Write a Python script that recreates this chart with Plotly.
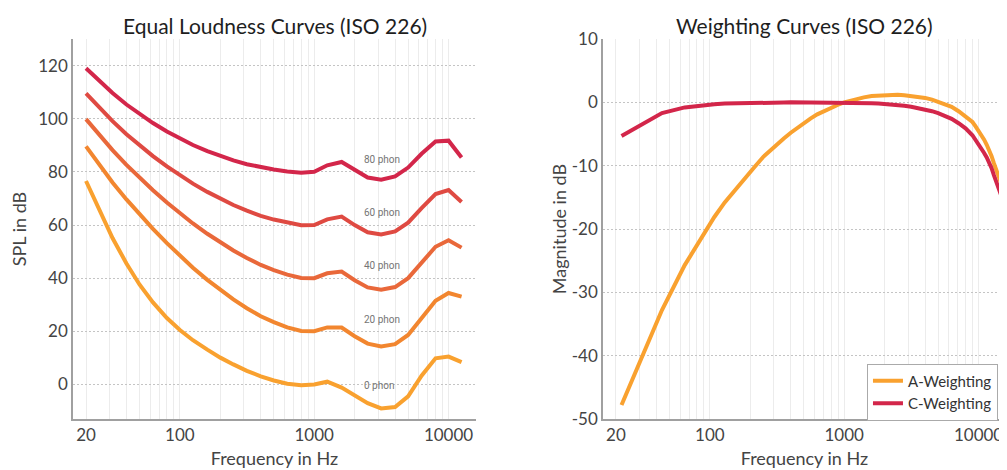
import numpy as np
import plotly.graph_objects as go

# ---------------- data ----------------
freqs = [20, 25, 31.5, 40, 50, 63, 80, 100, 125, 160, 200, 250, 315, 400, 500, 630,
         800, 1000, 1250, 1600, 2000, 2500, 3150, 4000, 5000, 6300, 8000, 10000, 12500]
phon_0 = [76.55, 65.62, 55.12, 45.53, 37.63, 30.87, 25.02, 20.51, 16.64, 13.12, 10.09, 7.54,
          5.12, 3.06, 1.48, 0.30, -0.30, -0.01, 1.04, -1.19, -4.11, -7.05, -9.03, -8.50,
          -4.48, 3.28, 9.83, 10.48, 8.38]
phon_20 = [89.58, 82.65, 75.98, 69.62, 64.02, 58.55, 53.19, 48.38, 43.94, 39.37, 35.51, 31.99,
           28.69, 25.67, 23.43, 21.48, 20.10, 20.01, 21.46, 21.40, 18.15, 15.38, 14.26, 15.14,
           18.64, 25.02, 31.52, 34.43, 33.04]
phon_40 = [99.85, 93.94, 88.17, 82.63, 77.79, 73.08, 68.48, 64.37, 60.59, 56.70, 53.41, 50.40,
           47.58, 44.98, 43.05, 41.34, 40.06, 40.01, 41.82, 42.51, 39.23, 36.51, 35.61, 36.65,
           40.01, 45.83, 51.80, 54.29, 51.49]
phon_60 = [109.51, 104.23, 99.08, 94.18, 89.96, 85.94, 82.05, 78.65, 75.56, 72.47, 69.86, 67.53,
           65.39, 63.45, 62.05, 60.81, 59.89, 60.01, 62.15, 63.19, 59.96, 57.25, 56.42, 57.57,
           60.89, 66.36, 71.66, 73.15, 68.63]
phon_80 = [118.99, 114.23, 109.65, 105.34, 101.72, 98.36, 95.17, 92.48, 90.09, 87.82, 85.92, 84.31,
           82.89, 81.68, 80.86, 80.17, 79.67, 80.01, 82.48, 83.74, 80.59, 77.88, 77.07, 78.31,
           81.62, 86.81, 91.41, 91.74, 85.41]
phon_labels = ["0 phon", "20 phon", "40 phon", "60 phon", "80 phon"]
phon_label_y = [-0.4, 24.6, 44.6, 64.6, 84.7]
phon_label_f = 2280

w_freqs = [22, 44, 65, 86, 108, 129, 151, 172, 194, 215, 250, 280, 315, 355, 400, 450, 500,
           560, 630, 710, 800, 900, 1000, 1120, 1250, 1400, 1600, 1800, 2000, 2250, 2500, 2800,
           3150, 3550, 4000, 4500, 5000, 5600, 6300, 7100, 8000, 9000, 9500, 10000, 10500,
           11000, 11500, 12000, 12500, 13000, 13500, 14000, 14500, 15000, 15500, 16000]
a_weight = [-47.8, -32.8, -25.7, -21.4, -18.1, -15.8, -14.0, -12.6, -11.2, -10.2, -8.6, -7.6,
            -6.6, -5.7, -4.8, -3.95, -3.2, -2.56, -1.9, -1.35, -0.8, -0.38, 0.0, 0.3, 0.6,
            0.78, 1.0, 1.08, 1.15, 1.18, 1.2, 1.12, 1.0, 0.87, 0.7, 0.42, 0.1, -0.3, -0.7,
            -1.4, -2.2, -3.1, -3.8, -4.5, -5.2, -5.9, -6.7, -7.5, -8.5, -9.6, -10.6, -11.6,
            -12.4, -13.3, -14.1, -14.9]
c_weight = [-5.3, -1.7, -0.8, -0.45, -0.3, -0.2, -0.15, -0.12, -0.1, -0.08, -0.05, -0.04,
            -0.03, -0.02, 0.0, 0.0, 0.0, 0.0, 0.0, 0.0, 0.0, 0.0, 0.0, 0.0, 0.0, -0.05, -0.15,
            -0.2, -0.25, -0.32, -0.4, -0.55, -0.7, -0.9, -1.1, -1.4, -1.7, -2.1, -2.6, -3.3,
            -4.1, -5.2, -5.9, -6.7, -7.4, -8.0, -8.7, -9.5, -10.4, -11.5, -12.5, -13.5, -14.3,
            -15.2, -16.0, -16.8]

x_ticks = [20, 100, 1000, 10000]
x_tick_text = ["20", "100", "1000", "10000"]
left_y_ticks = [0, 20, 40, 60, 80, 100, 120]
left_y_text = ["0", "20", "40", "60", "80", "100", "120"]
right_y_ticks = [-50, -40, -30, -20, -10, 0, 10]
right_y_text = ["-50", "-40", "-30", "-20", "-10", "0", "10"]

# ---------------- styling ----------------
FONT = "Lato"
phon_colors = ["#f9a12f", "#f2862f", "#e9683a", "#df4a42", "#d3264a"]
A_COLOR = "#f9a12f"
C_COLOR = "#d3264a"
minor_vals = [m * 10 ** e for e in range(1, 5) for m in range(2, 10)] + [10000]

fig = go.Figure()
phons = [phon_0, phon_20, phon_40, phon_60, phon_80]
for vals, col, name in zip(phons, phon_colors, phon_labels):
    fig.add_trace(go.Scatter(x=freqs, y=vals, mode="lines", line=dict(color=col, width=4),
                             name=name, showlegend=False, xaxis="x", yaxis="y"))

fig.add_trace(go.Scatter(x=w_freqs, y=a_weight, mode="lines", line=dict(color=A_COLOR, width=4),
                         name="A-Weighting", xaxis="x2", yaxis="y2"))
fig.add_trace(go.Scatter(x=w_freqs, y=c_weight, mode="lines", line=dict(color=C_COLOR, width=4),
                         name="C-Weighting", xaxis="x2", yaxis="y2"))

for lab, yv in zip(phon_labels, phon_label_y):
    fig.add_annotation(x=np.log10(phon_label_f), y=yv, xref="x", yref="y", text=lab,
                       showarrow=False, xanchor="left", yanchor="middle",
                       font=dict(family="Liberation Sans Narrow, Roboto", size=10, color="#757575"))

xa = dict(type="log", range=[np.log10(16), np.log10(16000)], tickvals=x_ticks,
          ticktext=x_tick_text, showgrid=True, gridcolor="#ececec", gridwidth=1,
          minor=dict(tickvals=minor_vals, showgrid=True, gridcolor="#ececec", gridwidth=1),
          showline=True, linecolor="#a0a0a0", linewidth=1.5, zeroline=False,
          tickfont=dict(size=17, color="#444"), ticks="",
          title=dict(text="Frequency in Hz", font=dict(size=18, color="#444"), standoff=8))
ya = dict(showgrid=True, gridcolor="#c4c4c4", griddash="2px,2px", gridwidth=1,
          showline=True, linecolor="#a0a0a0", linewidth=1.5, zeroline=False, ticks="",
          tickfont=dict(size=17, color="#444"))

fig.update_layout(
    width=999, height=462,
    margin=dict(l=65, r=1, t=31, b=51),
    paper_bgcolor="white", plot_bgcolor="white",
    font=dict(family=FONT, color="#444"),
    xaxis=dict(xa, domain=[0, 0.4319], anchor="y"),
    yaxis=dict(ya, range=[-13, 130], tickvals=left_y_ticks, ticktext=left_y_text, anchor="x",
               title=dict(text="SPL in dB", font=dict(size=18, color="#444"), standoff=8)),
    xaxis2=dict(xa, domain=[0.568, 1.0], anchor="y2"),
    yaxis2=dict(ya, range=[-50, 10], tickvals=right_y_ticks, ticktext=right_y_text, anchor="x2",
                title=dict(text="Magnitude in dB", font=dict(size=18, color="#444"), standoff=0)),
    legend=dict(x=0.9914, y=-0.004, xanchor="right", yanchor="bottom", bgcolor="white",
                bordercolor="#aaa", borderwidth=1, font=dict(size=15, color="#333"),
                tracegroupgap=0, itemwidth=30),
    annotations=list(fig.layout.annotations) + [
        dict(text="Equal Loudness Curves (ISO 226)", x=0.216, y=1, xref="paper", yref="paper",
             xanchor="center", yshift=14, yanchor="middle", showarrow=False,
             font=dict(size=21, color="#1e1e1e")),
        dict(text="Weighting Curves (ISO 226)", x=0.784, y=1, xref="paper", yref="paper",
             xanchor="center", yshift=14, yanchor="middle", showarrow=False,
             font=dict(size=21, color="#1e1e1e")),
    ],
)

fig.write_html("out.html")
